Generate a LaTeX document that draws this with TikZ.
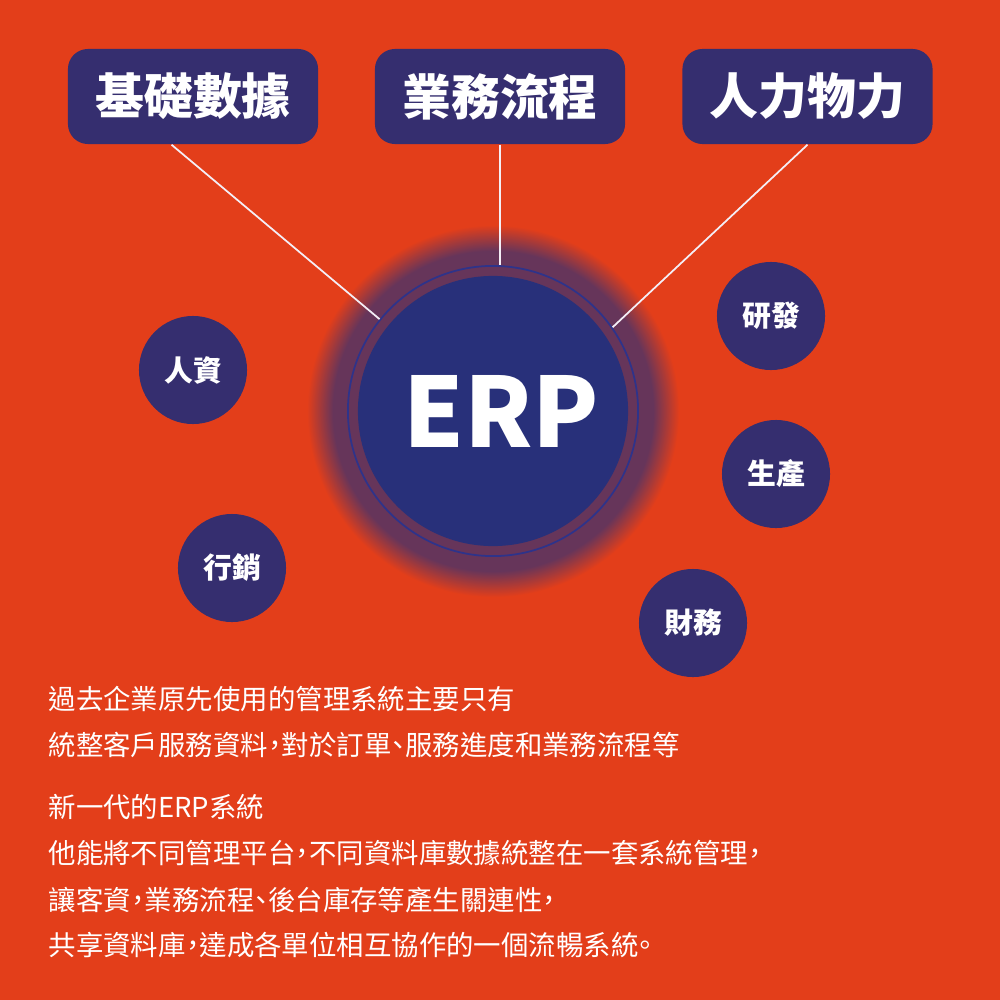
\documentclass[tikz,border=0pt]{standalone}
\usepackage{fontspec}
\setmainfont{Noto Sans CJK TC}[RawFeature=+halt]
\usepackage{tikz}
\usetikzlibrary{positioning}
\definecolor{cBg}{HTML}{E33E1A}
\definecolor{cBox}{HTML}{352E6F}
\definecolor{cCore}{HTML}{28307A}
\definecolor{cGlow}{HTML}{66355A}
\definecolor{cRing}{HTML}{2E338A}
\definecolor{cLine}{HTML}{F4EEF6}
\pgfdeclareradialshading{erpglow}{\pgfpoint{0bp}{0bp}}{color(0bp)=(cGlow); color(21.5bp)=(cGlow); color(25bp)=(cBg); color(50bp)=(cBg)}
\tikzset{
  topbox/.style={fill=cBox, rounded corners=0.2cm, minimum width=2.5cm, minimum height=0.95cm,
                 inner sep=0pt, text=white, font=\bfseries\fontsize{13.9}{16}\selectfont},
  dept/.style={circle, fill=cBox, minimum size=1.08cm, inner sep=0pt, text=white,
               font=\bfseries\fontsize{8.2}{10}\selectfont},
  core/.style={circle, fill=cCore, minimum size=2.7cm, inner sep=0pt, text=white,
               font=\bfseries\fontsize{27.5}{30}\selectfont},
  ringnode/.style={circle, draw=cRing, line width=0.5pt, minimum size=2.9cm, inner sep=0pt},
  link/.style={draw=cLine, line width=0.5pt},
  note/.style={anchor=west, inner sep=0pt, text=white, font=\fontsize{7.8}{10}\selectfont}
}
\begin{document}
\begin{tikzpicture}[x=0.01cm, y=-0.01cm]
% canvas, 1000 x 1000 px
\fill[cBg] (0,0) rectangle (1000,1000);
\useasboundingbox (0,0) rectangle (1000,1000);
% glow round the core
\shade[shading=erpglow] (493,411) circle (1.86cm);
\node[ringnode] (ring) at (493,411) {};
\node[core] (erp) at (493,411) {\kern0.16cm ERP};
% top categories
\node[topbox] (jichu) at (193,96.5) {基礎數據};
\node[topbox] (yewu) at (500,96.5) {業務流程};
\node[topbox] (renli) at (807.5,96.5) {人力物力};
\draw[link] (jichu.246) -- (ring.141);
\draw[link] (yewu.south) -- (yewu.south |- ring.north);
\draw[link] (renli.south) -- (ring.35);
% departments
\node[dept] (renzi) at (193,370) {人資};
\node[dept] (xingxiao) at (232,568) {行銷};
\node[dept] (yanfa) at (771,316) {研發};
\node[dept] (shengchan) at (776,474) {生產};
\node[dept] (caiwu) at (693,623) {財務};
% description
\foreach \i/\y/\txt in {1/699/過去企業原先使用的管理系統主要只有,
                        2/745/統整客戶服務資料，對於訂單、服務進度和業務流程等,
                        3/807/新一代的ERP系統,
                        4/853/他能將不同管理平台，不同資料庫數據統整在一套系統管理，,
                        5/900/讓客資，業務流程、後台庫存等產生關連性，,
                        6/945/共享資料庫，達成各單位相互協作的一個流暢系統。}
  \node[note] (note\i) at (48,\y) {\txt};
\end{tikzpicture}
\end{document}
